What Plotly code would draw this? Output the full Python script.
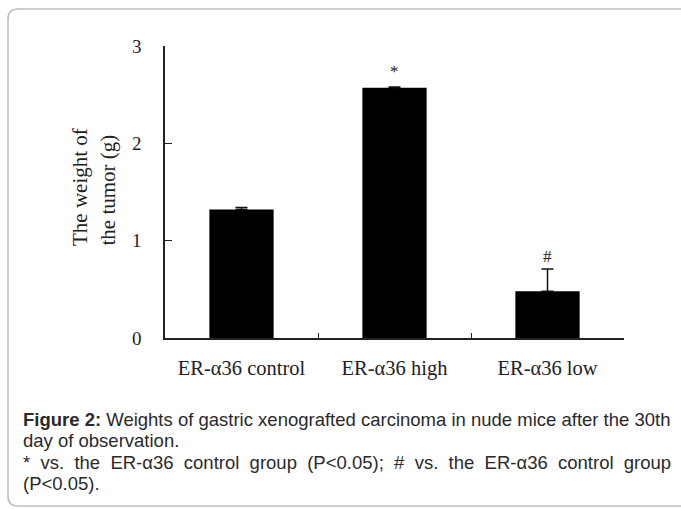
import plotly.graph_objects as go

categories = ["ER-α36 control", "ER-α36 high", "ER-α36 low"]
weights = [1.32, 2.57, 0.48]
errors = [0.02, 0.01, 0.23]
marks = ["", "*", "#"]
mark_y = [None, 2.74, 0.84]
y_ticks = [0, 1, 2, 3]

W, H = 681, 509
L, R, T, B = 165, 57, 46, 171
PW, PH = W - L - R, H - T - B

def px(x):
    return (x - L) / PW

def py(y):
    return (H - B - y) / PH

fig = go.Figure()
fig.add_trace(go.Bar(
    x=categories, y=weights, width=0.42,
    marker=dict(color="black", line=dict(color="black", width=0)),
    error_y=dict(type="data", symmetric=False, array=errors, arrayminus=[0] * len(errors),
                 visible=True, color="#111", thickness=1.5, width=6),
))

serif = "Liberation Serif, Times New Roman, serif"
sans = "Liberation Sans, Arial, sans-serif"

annotations = []
for c, m, my in zip(categories, marks, mark_y):
    if m:
        annotations.append(dict(x=c, y=my, xref="x", yref="y", text=m, showarrow=False,
                                font=dict(family=serif, size=17, color="#222")))

# y-axis title (two lines, rotated)
annotations.append(dict(x=px(80), y=py(248), xref="paper", yref="paper", text="The weight of",
                        textangle=-90, showarrow=False, xanchor="center", yanchor="bottom",
                        font=dict(family=serif, size=21, color="#222")))
annotations.append(dict(x=px(107), y=py(248), xref="paper", yref="paper", text="the tumor (g)",
                        textangle=-90, showarrow=False, xanchor="center", yanchor="bottom",
                        font=dict(family=serif, size=21, color="#222")))

sp = "\u00a0 "
cap_lines = [
    (419, "<b>Figure 2:</b> Weights of gastric xenografted carcinoma in nude mice after the 30th"),
    (440, "day of observation."),
    (462, sp.join("* vs. the ER-α36 control group (P&lt;0.05); # vs. the ER-α36 control group".split(" "))),
    (483, "(P&lt;0.05)."),
]
for yy, t in cap_lines:
    annotations.append(dict(x=px(21), y=py(yy), xref="paper", yref="paper", text=t,
                            showarrow=False, xanchor="left", yanchor="middle",
                            font=dict(family=sans, size=18.5, color="#2a2a2a")))

# rounded border
x0, y0, x1, y1, r = px(8), py(9), px(700), py(506), 10
rx, ry = r / PW, r / PH
path = (f"M {x0+rx},{y0} L {x1},{y0} L {x1},{y1} L {x0+rx},{y1} "
        f"Q {x0},{y1} {x0},{y1+ry} L {x0},{y0-ry} Q {x0},{y0} {x0+rx},{y0} Z")
shapes = [dict(type="path", xref="paper", yref="paper", path=path,
               line=dict(color="#bdbdbd", width=1.5), fillcolor="rgba(0,0,0,0)")]

fig.update_layout(
    width=W, height=H,
    margin=dict(l=L, r=R, t=T, b=B),
    paper_bgcolor="white", plot_bgcolor="white",
    showlegend=False,
    annotations=annotations,
    shapes=shapes,
    bargap=0.58,
)
fig.update_xaxes(
    showline=True, linecolor="#222", linewidth=1.5,
    ticks="inside", tickson="boundaries", ticklen=5, tickcolor="#222",
    showgrid=False, tickfont=dict(family=serif, size=20.5, color="#222"),
    ticklabelstandoff=11,
)
fig.update_yaxes(
    range=[0, 3], tickvals=y_ticks, showline=True, linecolor="#222", linewidth=1.5,
    ticks="inside", ticklen=7, tickcolor="#222", showgrid=False, zeroline=False,
    tickfont=dict(family=serif, size=19, color="#222"), ticklabelstandoff=18,
)

fig.write_html("out.html")
